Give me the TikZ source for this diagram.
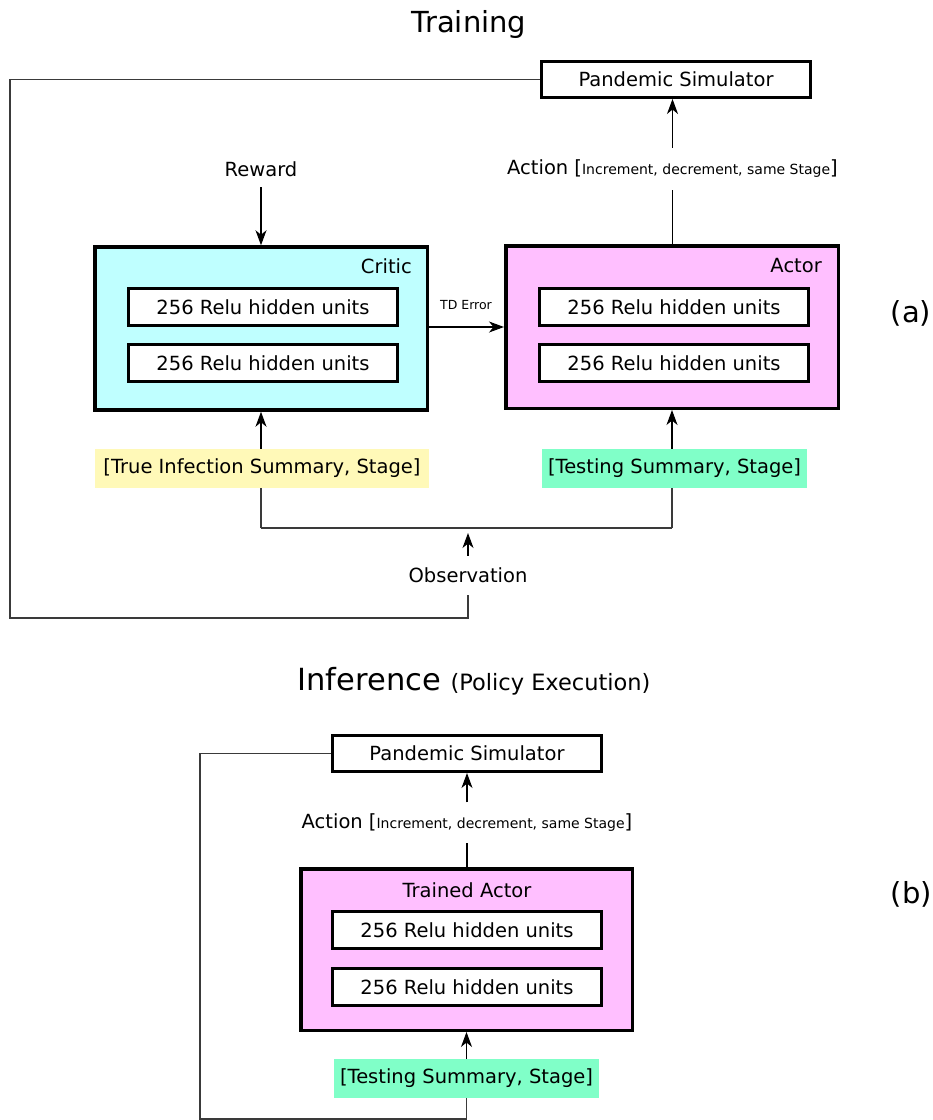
\documentclass[tikz,border=0pt]{standalone}
\usepackage{fontspec}
\setmainfont{DejaVu Sans}
\usetikzlibrary{arrows.meta}
\definecolor{cyanfill}{HTML}{BFFFFF}
\definecolor{pinkfill}{HTML}{FFBFFF}
\definecolor{yellowfill}{HTML}{FFF9B8}
\definecolor{greenfill}{HTML}{80FFC8}
\definecolor{linegray}{HTML}{3A3A3A}
\newcommand{\mainsize}{\fontsize{19.5}{23}\selectfont}
\newcommand{\smallbr}{\fontsize{14}{16}\selectfont}
\begin{document}
\begin{tikzpicture}[x=1pt,y=-1pt,
  every node/.style={inner sep=0pt, font=\mainsize},
  titletext/.style={font=\fontsize{29}{33}\selectfont, anchor=base},
  panellabel/.style={font=\fontsize{29}{33}\selectfont},
  simbox/.style={draw=black, fill=white, line width=3pt, minimum width=269pt, minimum height=36pt},
  netbox/.style={draw=black, line width=3.5pt, minimum width=332.5pt, minimum height=163pt},
  layerbox/.style={draw=black, fill=white, line width=3pt, minimum width=269pt, minimum height=37pt},
  lbl/.style={minimum height=40pt},
  inlbl/.style={minimum height=39pt},
  conn/.style={draw=linegray, line width=1.1pt},
  arr/.style={draw=black, line width=1.1pt, -{Stealth[length=15pt, width=11pt, inset=4.5pt]}},
]
\useasboundingbox (0,0) rectangle (933,1120);

% ---------------- Training ----------------
\node[titletext] (ttrain) at (469,32) {Training};
\node[simbox] (ps1) at (676,79.5) {Pandemic Simulator};
\node[lbl, minimum height=42pt] (act1) at (672.5,169) {Action [{\smallbr Increment, decrement, same Stage}]};
\node[lbl, minimum height=36pt] (rew) at (261,169) {Reward};

\node[netbox, fill=cyanfill] (critic) at (261,328.5) {};
\node[anchor=base east] (criticlbl) at (412,273) {Critic};
\node[layerbox] (c1) at (263,307) {256 Relu hidden units};
\node[layerbox] (c2) at (263,363) {256 Relu hidden units};

\node[netbox, fill=pinkfill, minimum height=162.5pt] (actor) at (672,327) {};
\node[anchor=base east] (actorlbl) at (822,272) {Actor};
\node[layerbox] (a1) at (674,307) {256 Relu hidden units};
\node[layerbox] (a2) at (674,363) {256 Relu hidden units};

\node[font=\fontsize{12.5}{14}\selectfont] (td) at (466,305) {TD Error};
\node[panellabel] (pa) at (911,313) {(a)};

\node[inlbl, fill=yellowfill, minimum width=334pt] (ytxt) at (262,468.5) {[True Infection Summary, Stage]};
\node[inlbl, fill=greenfill, minimum width=265pt] (gtxt) at (674.5,468.5) {[Testing Summary, Stage]};

\node[inlbl] (obs) at (468,575.5) {Observation};
\coordinate (jl) at (261,528);
\coordinate (jr) at (672,528);
\coordinate (obstip) at (468,533);
\coordinate (loopA) at (10,618);

\draw[arr] (act1.north) -- (act1.north |- ps1.south);
\draw[arr, -] (actor.north -| act1.south) -- (act1.south);
\draw[arr] (rew.south) -- (rew.south |- critic.north);
\draw[arr] (critic.east |- actor.west) -- (actor.west);
\draw[conn] (jl) -- (jr);
\draw[conn] (jl) -- (jl |- ytxt.south);
\draw[arr] (jl |- ytxt.north) -- (jl |- critic.south);
\draw[conn] (jr) -- (jr |- gtxt.south);
\draw[arr] (jr |- gtxt.north) -- (jr |- actor.south);
\draw[arr] (obs.north) -- (obstip);
\draw[conn] (ps1.west) -| (loopA) -| (obs.south);

% ---------------- Inference ----------------
\node[titletext, font=\fontsize{30.5}{34}\selectfont] (tinf) at (474,690) {Inference {\fontsize{22.5}{26}\selectfont(Policy Execution)}};
\node[simbox] (ps2) at (467,753.5) {Pandemic Simulator};
\node[lbl] (act2) at (467,822.5) {Action [{\smallbr Increment, decrement, same Stage}]};
\node[netbox, fill=pinkfill, minimum width=331.5pt, minimum height=161.5pt] (tact) at (466.5,949.5) {};
\node[anchor=base] (tactlbl) at (467,897) {Trained Actor};
\node[layerbox] (t1) at (467,930) {256 Relu hidden units};
\node[layerbox] (t2) at (467,987) {256 Relu hidden units};
\node[inlbl, fill=greenfill, minimum width=265pt] (g2) at (466.5,1078.5) {[Testing Summary, Stage]};
\node[panellabel] (pb) at (911.5,894) {(b)};
\coordinate (loopB) at (200,1119);

\draw[arr] (act2.north) -- (act2.north |- ps2.south);
\draw[arr, -] (tact.north -| act2.south) -- (act2.south);
\draw[arr] (g2.north) -- (g2.north |- tact.south);
\draw[conn] (ps2.west) -| (loopB) -| (g2.south);
\end{tikzpicture}
\end{document}
